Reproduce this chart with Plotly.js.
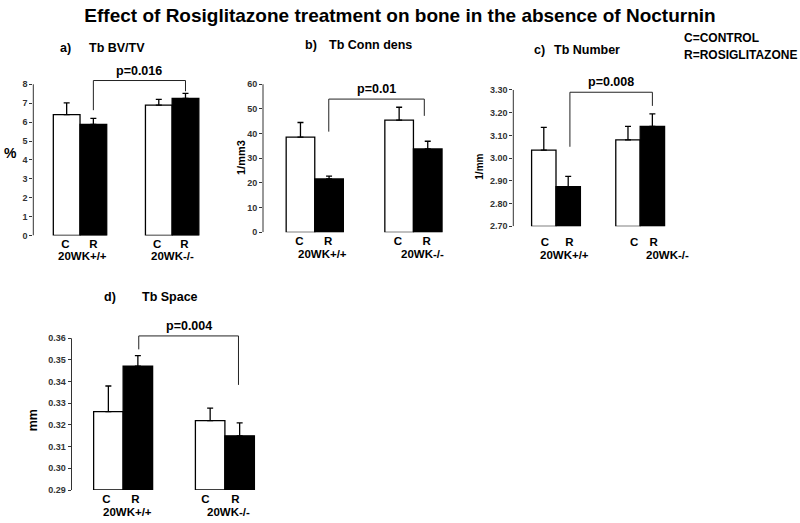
<!DOCTYPE html>
<html><head><meta charset="utf-8">
<script src="https://cdn.plot.ly/plotly-3.0.1.min.js"></script>
<style>html,body{margin:0;padding:0;background:#fff}#chart{width:800px;height:523px}</style>
</head><body><div id="chart"></div>
<script>
// ---------- data ----------
const chartTitle = 'Effect of Rosiglitazone treatment on bone in the absence of Nocturnin';
const groupLabels = ['20WK+/+', '20WK-/-'];
const treatmentLabels = ['C', 'R', 'C', 'R'];
const legendLines = ['C=CONTROL', 'R=ROSIGLITAZONE'];
const panelLetters = ['a)', 'b)', 'c)', 'd)'];
const panelNames = ['Tb BV/TV', 'Tb Conn dens', 'Tb Number', 'Tb Space'];
const unitLabels = ['%', '1/mm3', '1/mm', 'mm'];

const bvtvMean = [6.40, 5.88, 6.90, 7.25];
const bvtvErr = [0.62, 0.32, 0.30, 0.27];
const connMean = [38.6, 21.6, 45.5, 33.8];
const connErr = [5.9, 1.2, 5.2, 3.1];
const numMean = [3.035, 2.875, 3.080, 3.140];
const numErr = [0.100, 0.045, 0.060, 0.055];
const spaceMean = [0.3262, 0.3472, 0.3220, 0.3150];
const spaceErr = [0.0118, 0.0048, 0.0058, 0.0060];

const pLabels = ['p=0.016', 'p=0.01', 'p=0.008', 'p=0.004'];
const bracketTop = [8.2, 54, 3.29, 0.3611];
const bracketLeftEnd = [6.63, 40.8, 3.05, 0.3549];
const bracketRightEnd = [7.63, 47.2, 3.23, 0.3385];

const means = [bvtvMean, connMean, numMean, spaceMean];
const errs = [bvtvErr, connErr, numErr, spaceErr];

// ---------- layout geometry ----------
const FONT = 'Liberation Sans, Arial, Helvetica, sans-serif';
const W = 800, H = 523;
const barX = [0, 1, 3.45, 4.45];
const LABEL_SIZE = 11.5;
const geo = [
  {axisPx: 33.3, unitPx: 26.7, xRange: [-1.25, 5.2], basePx: 235.5, pxPerUnit: 18.9, yRange: [0, 8.7], yTop: 8, dtick: 1, fmt: '',
   tickX: [-0.05, 1.0, 3.39, 4.41], standoff: 0, groupX: [0.59, 3.98], groupY: 255.5, bracketX: [1, 4.45],
   unit: {x: 10, y: 153, angle: 0, size: 14}, letter: {x: 58, y: 48.3}, name: {x: 86.5, y: 48.3}},
  {axisPx: 263, unitPx: 28.6, xRange: [-1.31, 5.2], basePx: 232.3, pxPerUnit: 2.467, yRange: [0, 62], yTop: 60, dtick: 10, fmt: '',
   tickX: [-0.04, 0.97, 3.41, 4.41], standoff: 0, groupX: [0.77, 4.28], groupY: 253.5, bracketX: [0.99, 4.33],
   unit: {x: 241, y: 158, angle: -90, size: 11}, letter: {x: 302.5, y: 45}, name: {x: 326.5, y: 45}},
  {axisPx: 513.3, unitPx: 24.4, xRange: [-1.25, 5.2], basePx: 226.3, pxPerUnit: 227.2, yRange: [2.70, 3.31], yTop: 3.30, dtick: 0.1, fmt: '.2f',
   tickX: [0.05, 1.05, 3.7, 4.5], standoff: 7, groupX: [0.84, 5.06], groupY: 254.5, bracketX: [1.07, 4.45],
   unit: {x: 480, y: 166.7, angle: -90, size: 10}, letter: {x: 531.5, y: 50}, name: {x: 551.5, y: 50}},
  {axisPx: 71.5, unitPx: 29.5, xRange: [-1.25, 5.2], basePx: 490, pxPerUnit: 2167, yRange: [0.29, 0.3625], yTop: 0.36, dtick: 0.01, fmt: '.2f',
   tickX: [-0.07, 0.92, 3.29, 4.31], standoff: 0, groupX: [0.65, 4.08], groupY: 512, bracketX: [1.03, 4.41],
   unit: {x: 33.3, y: 420, angle: -90, size: 12.5}, letter: {x: 102.5, y: 296.7}, name: {x: 140, y: 296.7}}
];

const traces = [];
const layout = {
  width: W, height: H,
  margin: {l: 0, r: 0, t: 0, b: 0},
  paper_bgcolor: '#ffffff', plot_bgcolor: 'rgba(0,0,0,0)',
  showlegend: false,
  hovermode: false,
  font: {family: FONT, color: '#000'},
  title: {text: chartTitle, x: 0.5, xanchor: 'center', xref: 'paper', y: 1 - 15/H, yanchor: 'middle', yref: 'paper',
          font: {family: FONT, size: 19, weight: 'bold', color: '#000'}},
  shapes: [],
  annotations: []
};

function px2x(px) { return px / W; }
function px2y(py) { return 1 - py / H; }
function txt(text, xPx, yPx, size, extra) {
  return Object.assign({text: text, xref: 'paper', yref: 'paper', x: px2x(xPx), y: px2y(yPx),
    xanchor: 'center', yanchor: 'middle', showarrow: false,
    font: {family: FONT, size: size, weight: 'bold', color: '#000'}}, extra || {});
}

geo.forEach((g, i) => {
  const n = i === 0 ? '' : String(i + 1);
  const xa = 'x' + n, ya = 'y' + n;
  const xDomain = [px2x(g.axisPx), px2x(g.axisPx + (g.xRange[1] - g.xRange[0]) * g.unitPx)];
  const yDomain = [px2y(g.basePx), px2y(g.basePx - (g.yRange[1] - g.yRange[0]) * g.pxPerUnit)];
  layout['xaxis' + n] = {
    domain: xDomain, range: g.xRange, anchor: ya, fixedrange: true,
    showline: false, showgrid: false, zeroline: false, ticks: '',
    tickmode: 'array', tickvals: g.tickX, ticktext: treatmentLabels, ticklabelstandoff: g.standoff,
    tickfont: {family: FONT, size: LABEL_SIZE, weight: 'bold', color: '#000'}
  };
  layout['yaxis' + n] = {
    domain: yDomain, range: g.yRange, anchor: xa, fixedrange: true,
    showline: false, showgrid: false, zeroline: false,
    ticks: 'outside', ticklen: 3, tickwidth: 1, tickcolor: '#333',
    tick0: g.yRange[0], dtick: g.dtick, tickformat: g.fmt,
    tickfont: {family: FONT, size: 9, weight: 'bold', color: '#333'}
  };
  const base = g.yRange[0];
  traces.push({
    type: 'bar', xaxis: xa, yaxis: ya,
    x: barX, y: means[i].map(v => v - base), base: base, width: 1,
    marker: {color: ['#ffffff', '#000000', '#ffffff', '#000000'], line: {color: '#000', width: 1.3}},
    error_y: {type: 'data', symmetric: false, array: errs[i], arrayminus: errs[i].map(() => 0),
              color: '#000', thickness: 1.3, width: 3}
  });
  // y axis line (stops at top tick)
  layout.shapes.push({type: 'line', xref: xa + ' domain', yref: ya, x0: 0, x1: 0, y0: g.yRange[0], y1: g.yTop,
                      line: {color: '#333', width: 1}});
  // significance bracket
  const bx0 = g.bracketX[0], bx1 = g.bracketX[1];
  layout.shapes.push({type: 'path', xref: xa, yref: ya,
    path: `M ${bx0},${bracketLeftEnd[i]} L ${bx0},${bracketTop[i]} L ${bx1},${bracketTop[i]} L ${bx1},${bracketRightEnd[i]}`,
    line: {color: '#222', width: 1}});
  layout.annotations.push({text: pLabels[i], xref: xa, yref: ya, x: (bx0 + bx1) / 2, y: bracketTop[i],
    xanchor: 'center', yanchor: 'bottom', yshift: 1, showarrow: false,
    font: {family: FONT, size: 12.5, weight: 'bold', color: '#000'}});
  // group labels
  groupLabels.forEach((lab, k) => {
    layout.annotations.push({text: lab, xref: xa, yref: 'paper', x: g.groupX[k], y: px2y(g.groupY),
      xanchor: 'center', yanchor: 'middle', showarrow: false, borderpad: 0,
      font: {family: FONT, size: LABEL_SIZE, weight: 'bold', color: '#000'}});
  });
  // unit label
  layout.annotations.push(txt(unitLabels[i], g.unit.x, g.unit.y, g.unit.size, {textangle: g.unit.angle}));
  // panel title
  layout.annotations.push(txt(panelLetters[i], g.letter.x, g.letter.y, 12.5, {xanchor: 'left'}));
  layout.annotations.push(txt(panelNames[i], g.name.x, g.name.y, 12.5, {xanchor: 'left'}));
});

layout.annotations.push(txt(legendLines[0], 682, 38.3, 12, {xanchor: 'left'}));
layout.annotations.push(txt(legendLines[1], 682, 55, 12, {xanchor: 'left'}));

Plotly.newPlot('chart', traces, layout, {displayModeBar: false, staticPlot: true});
</script>
</body></html>
